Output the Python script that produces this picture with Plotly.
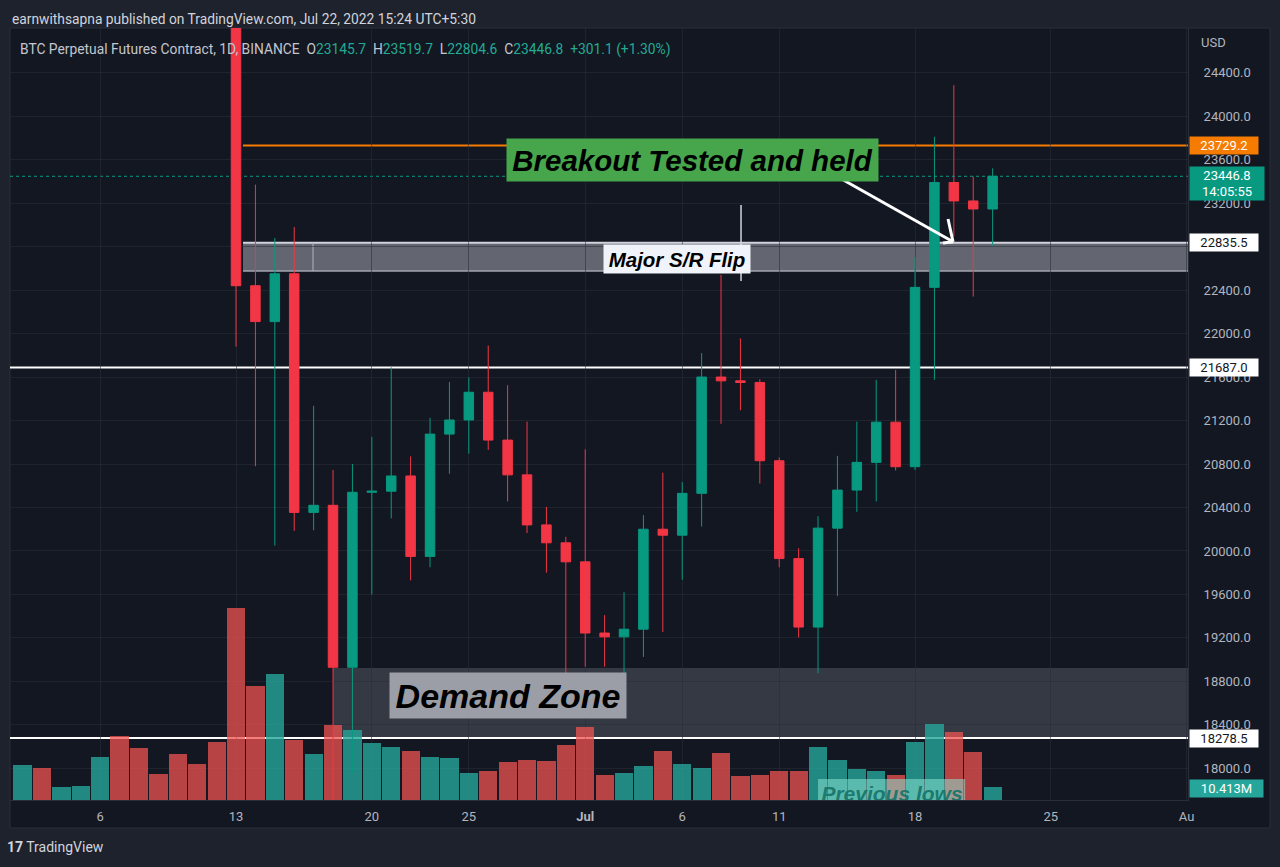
import pandas as pd
import plotly.graph_objects as go

# K线数据 (BINANCE BTC 永续, 1D), 2022-06-13 ~ 2022-07-22
candle_dates = pd.date_range('2022-06-13', '2022-07-22', freq='D')
opens = [26570, 22440, 22110, 22550, 20355, 20420, 18930, 20540, 20550, 20690,
         19950, 21075, 21205, 21460, 21020, 20700, 20240, 20075, 19900, 19245,
         19210, 19280, 20200, 20145, 20530, 21600, 21565, 21550, 20830, 19930,
         19300, 20210, 20560, 20815, 21185, 20775, 22425, 23390, 23220, 23145.7]
highs = [26900, 23370, 22880, 22980, 21335, 20745, 20800, 21050, 21690, 20870,
         21225, 21555, 21595, 21890, 21525, 21190, 20405, 20130, 20935, 19410,
         19620, 20330, 20720, 20635, 21820, 22540, 21955, 21580, 20860, 20025,
         20320, 20875, 21190, 21575, 21665, 22700, 23810, 24285, 23445, 23519.7]
lows = [21880, 20780, 20050, 20185, 20190, 17620, 17960, 19600, 20300, 19730,
        19850, 20710, 20895, 20930, 20455, 20165, 19800, 18630, 18935, 18935,
        18745, 19025, 19255, 19735, 20225, 21170, 21295, 20620, 19850, 19205,
        18875, 19585, 20360, 20455, 20740, 20745, 21575, 22895, 22340, 22804.6]
closes = [22440, 22110, 22550, 20355, 20420, 18930, 20540, 20550, 20690, 19950,
          21075, 21205, 21460, 21020, 20700, 20240, 20075, 19900, 19245, 19210,
          19280, 20200, 20145, 20530, 21600, 21565, 21550, 20830, 19930, 19300,
          20210, 20560, 20815, 21185, 20775, 22425, 23390, 23220, 23146, 23446.8]

# 成交量 (M), 2022-06-02 ~ 2022-07-22
vol_dates = pd.date_range('2022-06-02', '2022-07-22', freq='D')
volume = [28.7, 26.2, 10.7, 11.5, 35.3, 52.5, 42.6, 21.3, 37.7, 29.5, 47.6,
          157.4, 93.5, 103.3, 49.2, 37.7, 61.5, 57.4, 46.7, 43.5, 40.2, 35.3,
          34.4, 22.1, 23.8, 31.2, 32.8, 32.0, 45.1, 59.9, 20.5, 22.1, 27.9,
          40.2, 29.5, 26.2, 38.5, 19.7, 20.5, 23.8, 23.8, 43.5, 32.8, 25.4,
          23.8, 20.5, 47.6, 62.3, 55.8, 39.4, 10.413]
# 6/2 ~ 6/12 的K线在图外, 只知道涨跌
early_up = [True, False, True, True, True, False, False, False, False, False, False]

# 坐标轴
tick_dates = ['2022-06-06', '2022-06-13', '2022-06-20', '2022-06-25', '2022-07-01',
              '2022-07-06', '2022-07-11', '2022-07-18', '2022-07-25', '2022-08-01']
tick_text = ['6', '13', '20', '25', '<b>Jul</b>', '6', '11', '18', '25', 'Au']
price_ticks = list(range(18000, 24401, 400))

# 画线
orange_level = 23729.2
last_price = 23446.8
sr_top, sr_bottom = 22835.5, 22575
mid_level = 21687.0
low_level = 18278.5
demand_top, demand_bottom = 18923, 18288

UP = '#089981'
DOWN = '#f23645'
BG = '#131722'
GRID = 'rgba(42,46,57,0.55)'
TXT = '#b2b5be'
FONT = 'Roboto'

x_start, x_end = '2022-06-01 08:24', '2022-08-01 01:41'

vol_up = early_up + [c >= o for o, c in zip(opens, closes)]
vol_colors = ['rgba(38,166,154,0.8)' if u else 'rgba(239,83,80,0.75)' for u in vol_up]

fig = go.Figure()

# 成交量 (主y轴, 隐藏)
fig.add_trace(go.Bar(x=vol_dates, y=volume, marker=dict(color=vol_colors, line=dict(width=0)),
                     width=0.94 * 86400000, yaxis='y', hoverinfo='skip'))

# Previous lows 方框 + 文字 (会被图区裁掉一部分)
fig.add_trace(go.Scatter(x=['2022-07-13 00:00', '2022-07-20 14:00', '2022-07-20 14:00', '2022-07-13 00:00', '2022-07-13 00:00'],
                         y=[-5, -5, 17.2, 17.2, -5], mode='lines', fill='toself',
                         fillcolor='rgba(140,225,212,0.55)', line=dict(width=0), yaxis='y', hoverinfo='skip'))
fig.add_trace(go.Scatter(x=['2022-07-16 19:30'], y=[3.2], mode='text', text=['Previous lows'],
                         textfont=dict(family='Liberation Sans', size=21, color='rgba(24,118,106,0.95)',
                                       weight='bold', style='italic'),
                         yaxis='y', hoverinfo='skip', cliponaxis=True))

# K线 (y2 叠加在上面)
fig.add_trace(go.Candlestick(x=candle_dates, open=opens, high=highs, low=lows, close=closes,
                             increasing=dict(line=dict(color=UP, width=1), fillcolor=UP),
                             decreasing=dict(line=dict(color=DOWN, width=1), fillcolor=DOWN),
                             whiskerwidth=0, yaxis='y2', hoverinfo='skip'))

shapes = [
    # 图表框
    dict(type='rect', xref='paper', yref='paper', x0=0, x1=1260 / 1178, y0=-28 / 772, y1=1,
         fillcolor=BG, line=dict(color='#2a2e39', width=1), layer='below'),
    # 阻力位
    dict(type='line', xref='x', yref='y2', x0='2022-06-13 08:40', x1=x_end, y0=orange_level, y1=orange_level,
         line=dict(color='#f57c00', width=2), layer='below'),
    dict(type='line', xref='paper', yref='y2', x0=0, x1=1, y0=last_price, y1=last_price,
         line=dict(color=UP, width=1, dash='dot'), layer='below'),
    # S/R flip 区间
    dict(type='rect', xref='x', yref='y2', x0='2022-06-13 08:40', x1=x_end, y0=sr_bottom, y1=sr_top,
         fillcolor='rgba(149,152,161,0.62)', line=dict(width=0), layer='below'),
    dict(type='line', xref='x', yref='y2', x0='2022-06-13 08:40', x1=x_end, y0=sr_top, y1=sr_top,
         line=dict(color='#d1d4dc', width=2), layer='below'),
    dict(type='line', xref='x', yref='y2', x0='2022-06-13 08:40', x1=x_end, y0=sr_bottom, y1=sr_bottom,
         line=dict(color='#a3a6af', width=1.5), layer='below'),
    dict(type='line', xref='x', yref='y2', x0='2022-06-16 23:15', x1='2022-06-16 23:15', y0=sr_bottom, y1=sr_top,
         line=dict(color='#b2b5be', width=1), layer='below'),
    dict(type='line', xref='paper', yref='y2', x0=0, x1=1, y0=mid_level, y1=mid_level,
         line=dict(color='#ffffff', width=2), layer='below'),
    # 需求区
    dict(type='rect', xref='x', yref='y2', x0='2022-06-18', x1=x_end, y0=demand_bottom, y1=demand_top,
         fillcolor='rgba(149,152,161,0.27)', line=dict(width=0), layer='below'),
    dict(type='line', xref='paper', yref='y2', x0=0, x1=1, y0=low_level, y1=low_level,
         line=dict(color='#ffffff', width=2), layer='below'),
    # 标注竖线和箭头
    dict(type='line', xref='x', yref='y2', x0='2022-07-09 00:45', x1='2022-07-09 00:45', y0=22483, y1=23183,
         line=dict(color='#d1d4dc', width=1.5), layer='above'),
    dict(type='line', xref='x', yref='y2', x0='2022-07-14 00:45', x1='2022-07-19 23:00', y0=23440, y1=22845,
         line=dict(color='#ffffff', width=3), layer='above'),
    dict(type='line', xref='x', yref='y2', x0='2022-07-19 16:50', x1='2022-07-19 23:00', y0=23054, y1=22845,
         line=dict(color='#ffffff', width=3), layer='above'),
    dict(type='line', xref='x', yref='y2', x0='2022-07-19 10:35', x1='2022-07-19 23:00', y0=22833, y1=22845,
         line=dict(color='#ffffff', width=3), layer='above'),
]

big = dict(family='Liberation Sans', color='#000000', weight='bold', style='italic')
annotations = [
    dict(xref='paper', yref='paper', x=0, y=1 + 9 / 772, xanchor='left', yanchor='middle', showarrow=False,
         text='earnwithsapna published on TradingView.com, Jul 22, 2022 15:24 UTC+5:30',
         font=dict(family=FONT, size=13.8, color='#d1d4dc')),
    dict(xref='paper', yref='paper', x=8 / 1178, y=1 - 20 / 772, xanchor='left', yanchor='middle', showarrow=False,
         yshift=-2,
         text=("BTC Perpetual Futures Contract, 1D, BINANCE&nbsp;&nbsp;O<span style='color:#22ab94'>23145.7</span>"
               "&nbsp;&nbsp;H<span style='color:#22ab94'>23519.7</span>&nbsp;&nbsp;L<span style='color:#22ab94'>22804.6</span>"
               "&nbsp;&nbsp;C<span style='color:#22ab94'>23446.8</span>&nbsp;&nbsp;<span style='color:#22ab94'>+301.1 (+1.30%)</span>"),
         font=dict(family=FONT, size=13.8, color='#c3c6ce')),
    dict(xref='paper', yref='paper', x=1, y=1 - 15 / 772, xanchor='left', yanchor='middle', xshift=11, showarrow=False,
         text='USD', font=dict(family=FONT, size=13, color=TXT)),
    dict(xref='paper', yref='paper', x=-5 / 1178, y=-47 / 772, xanchor='left', yanchor='middle', showarrow=False,
         text='<b>17</b> TradingView', font=dict(family=FONT, size=14, color='#d1d4dc')),
    # 文字框
    dict(xref='x', yref='y2', x='2022-06-27 00:30', y=18670, showarrow=False, text='Demand Zone',
         font=dict(size=34, **big), bgcolor='#9b9ea6', width=236, height=45, borderpad=0),
    dict(xref='x', yref='y2', x='2022-07-06 12:45', y=23597, showarrow=False, text='Breakout Tested and held',
         font=dict(size=29.5, **big), bgcolor='#47a64b', width=371, height=42, borderpad=0),
    dict(xref='x', yref='y2', x='2022-07-05 17:30', y=22686, showarrow=False, text='Major S/R Flip',
         font=dict(size=20.5, **big), bgcolor='#f0f3fa', width=146, height=28, borderpad=0),
]

# 价格轴上的标签
axis_labels = [
    (orange_level, '23729.2', '#f57c00', '#ffffff'),
    (sr_top, '22835.5', '#ffffff', '#131722'),
    (mid_level, '21687.0', '#ffffff', '#131722'),
    (low_level, '18278.5', '#ffffff', '#131722'),
]
for lvl, txt, bg, fg in axis_labels:
    annotations.append(dict(xref='paper', yref='y2', x=1, y=lvl, xanchor='left', yanchor='middle', xshift=1,
                            showarrow=False, text=txt, bgcolor=bg, width=68, height=17, borderpad=0,
                            font=dict(family=FONT, size=13, color=fg)))
annotations.append(dict(xref='paper', yref='y2', x=1, y=last_price, xanchor='left', yanchor='top', xshift=1,
                        yshift=10, showarrow=False, text='23446.8<br>14:05:55', bgcolor=UP, width=74,
                        height=33, borderpad=0, font=dict(family=FONT, size=13, color='#ffffff')))
annotations.append(dict(xref='paper', yref='y', x=1, y=volume[-1], xanchor='left', yanchor='middle', xshift=1,
                        yshift=-1, showarrow=False, text='10.413M', bgcolor='#26a69a', width=73, height=17,
                        borderpad=0, font=dict(family=FONT, size=13, color='#ffffff')))

fig.update_layout(
    width=1280, height=867,
    margin=dict(l=10, r=92, t=28, b=67),
    paper_bgcolor='#1e222d', plot_bgcolor=BG,
    showlegend=False, bargap=0,
    shapes=shapes, annotations=annotations,
    xaxis=dict(type='date', range=[x_start, x_end], tickvals=tick_dates, ticktext=tick_text,
               showgrid=True, gridcolor=GRID, zeroline=False, rangeslider=dict(visible=False),
               tickfont=dict(family=FONT, size=13, color=TXT), ticks='', ticklabelstandoff=4,
               showline=True, linecolor='#2a2e39'),
    yaxis=dict(range=[0, 633], visible=False, fixedrange=True),
    yaxis2=dict(overlaying='y', side='right', range=[17709, 24811], tickvals=price_ticks,
                tickformat='.1f', showgrid=True, gridcolor=GRID, zeroline=False, ticks='',
                tickfont=dict(family=FONT, size=13, color=TXT), ticklabelstandoff=12,
                showline=True, linecolor='#2a2e39'),
)

# 去掉页面默认的 body 边距, 让图贴齐窗口左上角; 不显示工具栏
fig.write_html("out.html", config={'displayModeBar': False},
               post_script="document.body.style.margin='0';document.body.style.background='#1e222d';")
